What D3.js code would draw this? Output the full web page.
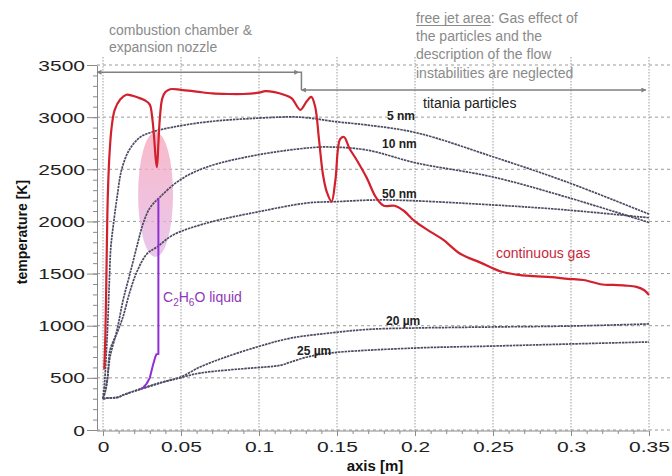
<!DOCTYPE html>
<html>
<head>
<meta charset="utf-8">
<script src="https://cdn.jsdelivr.net/npm/d3@7"></script>
<style>
  body { margin: 0; background: #fff; }
  svg text { font-family: Arial, "Liberation Sans", sans-serif; }
</style>
</head>
<body>
<svg id="chart" width="672" height="476"></svg>
<script>
// continuous gas (red)
const gasX = [0.0008, 0.0015, 0.002, 0.0025, 0.003, 0.004, 0.0055, 0.0075, 0.011, 0.015, 0.019, 0.023, 0.027, 0.030, 0.0315, 0.0328, 0.0338, 0.0346, 0.0355, 0.0365, 0.038, 0.040, 0.043, 0.05, 0.06, 0.07, 0.08, 0.09, 0.1, 0.104, 0.11, 0.116, 0.121, 0.1265, 0.1305, 0.1335, 0.136, 0.1385, 0.141, 0.1435, 0.1465, 0.149, 0.152, 0.1545, 0.158, 0.163, 0.169, 0.175, 0.18, 0.187, 0.193, 0.2, 0.21, 0.218, 0.229, 0.242, 0.255, 0.265, 0.276, 0.287, 0.298, 0.308, 0.32, 0.327, 0.335, 0.342, 0.347, 0.35];
const gasT = [580, 900, 1300, 1800, 2200, 2600, 2900, 3070, 3170, 3215, 3205, 3185, 3160, 3120, 3000, 2800, 2600, 2520, 2750, 3000, 3180, 3240, 3268, 3262, 3245, 3228, 3222, 3222, 3235, 3250, 3240, 3215, 3180, 3070, 3150, 3195, 3100, 2780, 2450, 2280, 2190, 2400, 2790, 2810, 2700, 2580, 2420, 2230, 2150, 2150, 2100, 2000, 1900, 1825, 1690, 1605, 1520, 1490, 1475, 1465, 1450, 1438, 1395, 1392, 1385, 1372, 1340, 1295];

// titania particles
const nm5X = [0, 0.001, 0.002, 0.003, 0.004, 0.005, 0.0065, 0.009, 0.012, 0.017, 0.024, 0.032, 0.045, 0.067, 0.099, 0.126, 0.15, 0.169, 0.201, 0.25, 0.297, 0.35];
const nm5T = [300, 450, 700, 1000, 1400, 1750, 1950, 2230, 2500, 2690, 2810, 2860, 2905, 2955, 2990, 3000, 2955, 2925, 2850, 2620, 2380, 2070];

const nm10X = [0, 0.0015, 0.003, 0.0045, 0.009, 0.0128, 0.0173, 0.0224, 0.0256, 0.0301, 0.0365, 0.0494, 0.0667, 0.0987, 0.131, 0.1436, 0.169, 0.201, 0.25, 0.297, 0.35];
const nm10T = [300, 380, 520, 700, 960, 1240, 1500, 1800, 1975, 2130, 2234, 2398, 2522, 2637, 2704, 2714, 2685, 2560, 2426, 2234, 1990];

const nm50X = [0, 0.0015, 0.003, 0.0045, 0.009, 0.0128, 0.0173, 0.0218, 0.0282, 0.0346, 0.0449, 0.0667, 0.0987, 0.131, 0.15, 0.1795, 0.25, 0.297, 0.35];
const nm50T = [300, 370, 500, 767, 930, 1084, 1330, 1520, 1690, 1755, 1870, 1985, 2090, 2177, 2190, 2206, 2158, 2110, 2035];

const um20X = [0, 0.002, 0.01, 0.0128, 0.0256, 0.0385, 0.0494, 0.0622, 0.0769, 0.0987, 0.12, 0.1455, 0.17, 0.2, 0.25, 0.3, 0.35];
const um20T = [300, 305, 315, 335, 400, 460, 505, 604, 690, 796, 880, 930, 965, 978, 988, 997, 1017];

const um25X = [0, 0.002, 0.01, 0.0128, 0.0256, 0.0385, 0.0494, 0.0622, 0.0987, 0.11, 0.115, 0.12, 0.131, 0.1455, 0.2, 0.25, 0.3, 0.35];
const um25T = [300, 305, 315, 335, 400, 460, 500, 546, 598, 612, 625, 650, 700, 738, 786, 805, 825, 844];

// C2H6O liquid (purple)
const liqX = [0.024, 0.026, 0.028, 0.030, 0.032, 0.0335, 0.0342, 0.0355, 0.0355];
const liqT = [392, 410, 445, 500, 620, 700, 725, 730, 2225];

const xTicks = [0, 0.05, 0.1, 0.15, 0.2, 0.25, 0.3, 0.35];
const yTicks = [0, 500, 1000, 1500, 2000, 2500, 3000, 3500];

const particleLabels = ["5 nm", "10 nm", "50 nm", "20 µm", "25 µm"];

const svg = d3.select("#chart");

const x = d3.scaleLinear().domain([0, 0.35]).range([103, 649]);
const y = d3.scaleLinear().domain([0, 3500]).range([430, 65]);

const zip = (xs, ts) => xs.map((v, i) => [v, ts[i]]);

// grid
svg.append("g").selectAll("line")
    .data(yTicks)
    .join("line")
    .attr("x1", 97).attr("x2", 672)
    .attr("y1", d => y(d)).attr("y2", d => y(d))
    .attr("stroke", "#9a9a9a")
    .attr("stroke-dasharray", "3,3");

svg.append("g").selectAll("line")
    .data(xTicks)
    .join("line")
    .attr("x1", d => x(d)).attr("x2", d => x(d))
    .attr("y1", 57).attr("y2", 430)
    .attr("stroke", "#9a9a9a")
    .attr("stroke-dasharray", "1.5,1.5");

// pink ellipse
const defs = svg.append("defs");
const grad = defs.append("linearGradient")
    .attr("id", "pinkGrad")
    .attr("x1", 0).attr("y1", 0).attr("x2", 0).attr("y2", 1);
grad.append("stop").attr("offset", "0%").attr("stop-color", "#f7a3b8");
grad.append("stop").attr("offset", "100%").attr("stop-color", "#e2b4e6");

svg.append("ellipse")
    .attr("cx", x(0.0337))
    .attr("cy", y(2258))
    .attr("rx", x(0.0337 + 0.0112) - x(0.0337))
    .attr("ry", y(2258 - 600) - y(2258))
    .attr("fill", "url(#pinkGrad)")
    .attr("opacity", 0.75);

// axes
const yAxis = svg.append("g")
    .attr("transform", "translate(97,0)")
    .call(d3.axisLeft(y).tickValues(yTicks).tickSize(10).tickSizeOuter(0).tickFormat(d3.format("d")));
yAxis.select(".domain").attr("stroke", "#8a8a8a");
yAxis.selectAll(".tick line").attr("stroke", "#8a8a8a");
yAxis.selectAll(".tick text")
    .attr("x", null)
    .attr("dy", "0.36em")
    .attr("transform", "translate(-12,0) scale(1.5,1)")
    .attr("font-size", 14)
    .attr("fill", "#222")
    .style("font-family", "Arial, 'Liberation Sans', sans-serif");

svg.append("g")
    .attr("transform", "translate(97,0)")
    .call(d3.axisLeft(y).ticks(35).tickSize(4).tickFormat(""))
    .call(g => g.select(".domain").remove())
    .selectAll(".tick line").attr("stroke", "#8a8a8a");

const xAxis = svg.append("g")
    .attr("transform", "translate(0,431)")
    .call(d3.axisBottom(x).tickValues(xTicks).tickSize(5).tickSizeOuter(0)
        .tickFormat(d => d === 0 ? "0" : d3.format("")(d)));
xAxis.select(".domain").attr("d", "M97,0H649").attr("stroke", "#8a8a8a");
xAxis.selectAll(".tick line").attr("stroke", "#8a8a8a");
xAxis.selectAll(".tick text")
    .attr("y", null)
    .attr("dy", null)
    .attr("transform", "translate(0,21) scale(1.5,1)")
    .attr("font-size", 14)
    .attr("fill", "#222")
    .style("font-family", "Arial, 'Liberation Sans', sans-serif");

svg.append("g")
    .attr("transform", "translate(0,431)")
    .call(d3.axisBottom(x).ticks(35).tickSize(3).tickFormat(""))
    .call(g => g.select(".domain").remove())
    .selectAll(".tick line").attr("stroke", "#8a8a8a");

// axis titles
svg.append("text")
    .attr("transform", "translate(27,232) rotate(-90)")
    .attr("text-anchor", "middle")
    .attr("font-size", 14)
    .attr("font-weight", "bold")
    .attr("fill", "#111")
    .text("temperature [K]");

svg.append("text")
    .attr("x", 375).attr("y", 471)
    .attr("text-anchor", "middle")
    .attr("font-size", 15)
    .attr("font-weight", "bold")
    .attr("fill", "#111")
    .text("axis [m]");

// curves
const line = d3.line()
    .x(d => x(d[0]))
    .y(d => y(d[1]))
    .curve(d3.curveCatmullRom.alpha(0.5));

const particles = [
    zip(nm5X, nm5T), zip(nm10X, nm10T), zip(nm50X, nm50T),
    zip(um20X, um20T), zip(um25X, um25T)
];

svg.append("g").selectAll("path")
    .data(particles)
    .join("path")
    .attr("d", line)
    .attr("fill", "none")
    .attr("stroke", "#4a4a62")
    .attr("stroke-width", 1.7)
    .attr("stroke-dasharray", "2.5,0.8");

svg.append("path")
    .datum(zip(liqX, liqT))
    .attr("d", d3.line().x(d => x(d[0])).y(d => y(d[1])).curve(d3.curveLinear))
    .attr("fill", "none")
    .attr("stroke", "#9030d0")
    .attr("stroke-width", 2);

svg.append("path")
    .datum(zip(gasX, gasT))
    .attr("d", line)
    .attr("fill", "none")
    .attr("stroke", "#d2202c")
    .attr("stroke-width", 2.2)
    .attr("stroke-linejoin", "round");

// region arrows
const marker = (id, orient) => defs.append("marker")
    .attr("id", id)
    .attr("viewBox", "0 0 10 10")
    .attr("refX", 9).attr("refY", 5)
    .attr("markerWidth", 7).attr("markerHeight", 5)
    .attr("orient", orient)
    .attr("markerUnits", "userSpaceOnUse")
    .append("path")
    .attr("d", "M0,0L10,5L0,10Z")
    .attr("fill", "#808080");
marker("arrowEnd", "auto");
marker("arrowStart", "auto-start-reverse");

svg.append("line")
    .attr("x1", 97).attr("x2", x(0.1255))
    .attr("y1", y(3430)).attr("y2", y(3430))
    .attr("stroke", "#808080").attr("stroke-width", 1.5)
    .attr("marker-start", "url(#arrowStart)")
    .attr("marker-end", "url(#arrowEnd)");

svg.append("path")
    .attr("d", `M${x(0.1255)},${y(3430)}H${x(0.1272)}V${y(3260)}`)
    .attr("fill", "none")
    .attr("stroke", "#808080").attr("stroke-width", 1.5);

svg.append("line")
    .attr("x1", x(0.1272)).attr("x2", x(0.348))
    .attr("y1", y(3260)).attr("y2", y(3260))
    .attr("stroke", "#808080").attr("stroke-width", 1.5)
    .attr("marker-start", "url(#arrowStart)")
    .attr("marker-end", "url(#arrowEnd)");

// annotations
const gray = "#8a8a8a";
const combText = svg.append("text").attr("font-size", 14).attr("fill", gray);
combText.append("tspan").attr("x", 109).attr("y", 35).text("combustion chamber &");
combText.append("tspan").attr("x", 109).attr("y", 52).text("expansion nozzle");

const jetLines = ["the particles and the", "description of the flow", "instabilities are neglected"];
const jetText = svg.append("text").attr("font-size", 14).attr("fill", gray);
const first = jetText.append("tspan").attr("x", 416).attr("y", 23);
first.append("tspan").attr("id", "fja").text("free jet area");
first.append("tspan").text(": Gas effect of");
jetLines.forEach((t, i) => jetText.append("tspan").attr("x", 416).attr("y", 41 + i * 18.3).text(t));
const fjaLen = document.getElementById("fja").getComputedTextLength();
svg.append("line")
    .attr("x1", 416).attr("x2", 416 + fjaLen)
    .attr("y1", 25.5).attr("y2", 25.5)
    .attr("stroke", gray).attr("stroke-width", 1);

svg.append("text")
    .attr("x", 423).attr("y", 108)
    .attr("font-size", 14).attr("fill", "#222")
    .text("titania particles");

const labelPos = [[387, 120], [382, 148], [382, 198], [386, 325], [297, 355]];
svg.append("g").selectAll("text")
    .data(particleLabels)
    .join("text")
    .attr("x", (d, i) => labelPos[i][0])
    .attr("y", (d, i) => labelPos[i][1])
    .attr("font-size", 12)
    .attr("font-weight", "bold")
    .attr("fill", "#222")
    .text(d => d);

svg.append("text")
    .attr("x", 496).attr("y", 258)
    .attr("font-size", 14).attr("fill", "#c8283a")
    .text("continuous gas");

const liq = svg.append("text")
    .attr("x", 163).attr("y", 302)
    .attr("font-size", 14).attr("fill", "#9038b8");
liq.append("tspan").text("C");
liq.append("tspan").attr("font-size", 10).attr("dy", 4).text("2");
liq.append("tspan").attr("dy", -4).text("H");
liq.append("tspan").attr("font-size", 10).attr("dy", 4).text("6");
liq.append("tspan").attr("dy", -4).text("O");
liq.append("tspan").text(" liquid");
</script>
</body>
</html>
